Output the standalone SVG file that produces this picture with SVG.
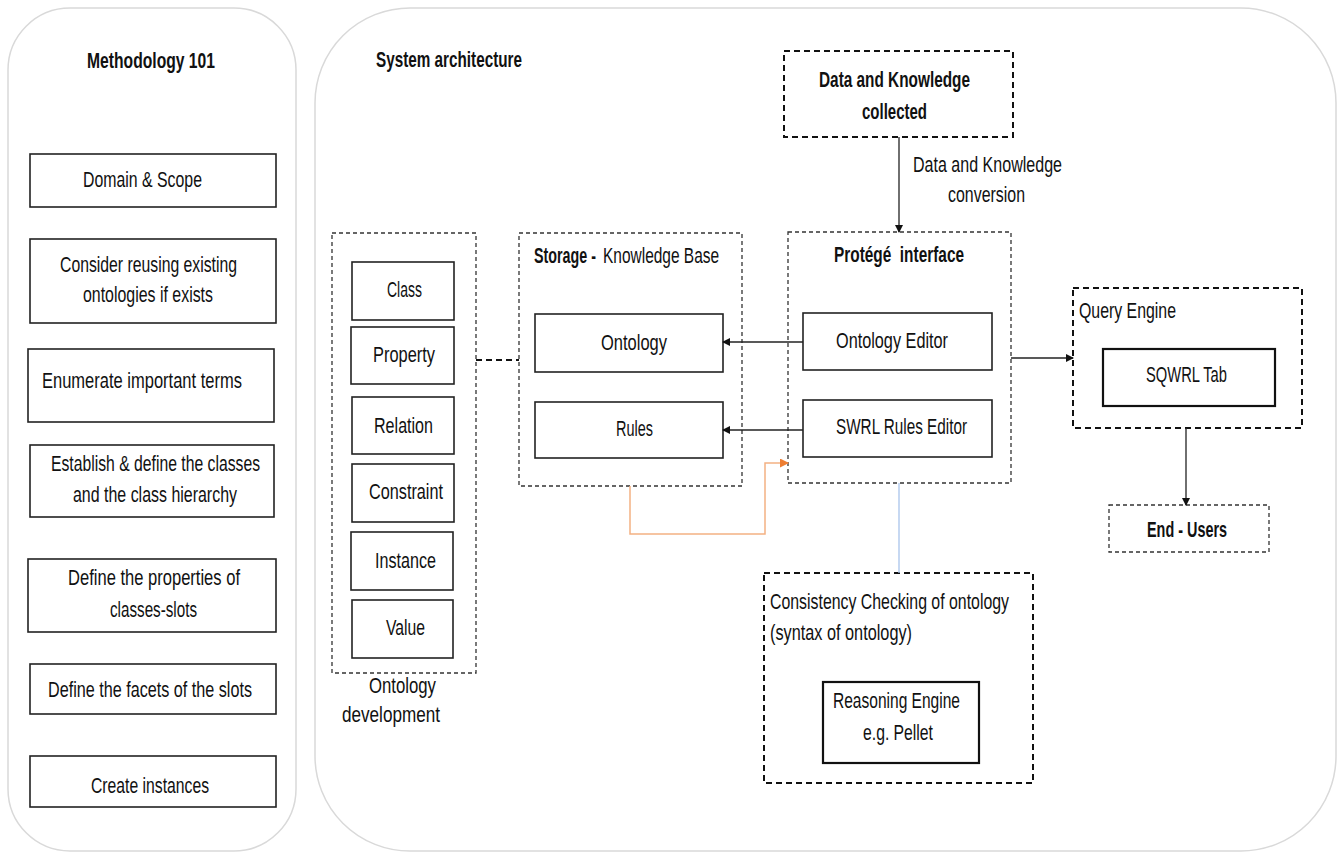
<svg xmlns="http://www.w3.org/2000/svg" width="1341" height="853" viewBox="0 0 1341 853">
<style>
text{font-family:"Liberation Sans",Arial,sans-serif;font-size:21.5px;fill:#111;}
.b{font-weight:bold;}
.panel{fill:#fff;stroke:#d9d9d9;stroke-width:1.5;}
.box{fill:#fff;stroke:#222;stroke-width:1.6;}
.box2{fill:#fff;stroke:#111;stroke-width:2.2;}
.dt{fill:none;stroke:#333;stroke-width:1.3;stroke-dasharray:4 3;}
.dk{fill:none;stroke:#111;stroke-width:2;stroke-dasharray:6 4;}
.ln{fill:none;stroke:#222;stroke-width:1.3;}
</style>
<defs>
<marker id="ah" markerWidth="8" markerHeight="8" refX="7" refY="4" orient="auto" markerUnits="userSpaceOnUse"><path d="M0,0 L8,4 L0,8 z" fill="#111"/></marker>
<marker id="ao" markerWidth="9" markerHeight="9" refX="8" refY="4.5" orient="auto" markerUnits="userSpaceOnUse"><path d="M0,0 L9,4.5 L0,9 z" fill="#ED7D31"/></marker>
</defs>
<rect width="1341" height="853" fill="#fff"/>

<g id="panel-methodology">
<rect class="panel" x="8" y="8" width="288" height="843" rx="62" ry="62"/>
<text class="b" x="87" y="68" textLength="128" lengthAdjust="spacingAndGlyphs">Methodology 101</text>
</g>
<g id="m1"><rect class="box" x="30" y="154" width="246" height="53"/><text x="83" y="187" textLength="119" lengthAdjust="spacingAndGlyphs">Domain &amp; Scope</text></g>
<g id="m2"><rect class="box" x="30" y="239" width="246" height="84"/><text x="60" y="272" textLength="177" lengthAdjust="spacingAndGlyphs">Consider reusing existing</text><text x="83" y="302" textLength="130" lengthAdjust="spacingAndGlyphs">ontologies if exists</text></g>
<g id="m3"><rect class="box" x="28" y="349" width="246" height="73"/><text x="42" y="388" textLength="200" lengthAdjust="spacingAndGlyphs">Enumerate important terms</text></g>
<g id="m4"><rect class="box" x="30" y="445" width="244" height="72"/><text x="51" y="471" textLength="209" lengthAdjust="spacingAndGlyphs">Establish &amp; define the classes</text><text x="73" y="502" textLength="164" lengthAdjust="spacingAndGlyphs">and the class hierarchy</text></g>
<g id="m5"><rect class="box" x="28" y="559" width="248" height="73"/><text x="68" y="585" textLength="172" lengthAdjust="spacingAndGlyphs">Define the properties of</text><text x="110" y="617" textLength="87" lengthAdjust="spacingAndGlyphs">classes-slots</text></g>
<g id="m6"><rect class="box" x="30" y="664" width="246" height="50"/><text x="48" y="697" textLength="204" lengthAdjust="spacingAndGlyphs">Define the facets of the slots</text></g>
<g id="m7"><rect class="box" x="30" y="756" width="246" height="51"/><text x="91" y="793" textLength="118" lengthAdjust="spacingAndGlyphs">Create instances</text></g>

<g id="panel-system">
<rect class="panel" x="315" y="8" width="1021" height="843" rx="95" ry="95"/>
<text class="b" x="376" y="67" textLength="146" lengthAdjust="spacingAndGlyphs">System architecture</text>
</g>

<g id="ontology-development">
<rect class="dt" x="332" y="233" width="144" height="440"/>
<text x="369" y="693" textLength="67" lengthAdjust="spacingAndGlyphs">Ontology</text>
<text x="342" y="722" textLength="98" lengthAdjust="spacingAndGlyphs">development</text>
</g>
<g id="od-class"><rect class="box" x="352" y="262" width="102" height="58"/><text x="387" y="297" textLength="35" lengthAdjust="spacingAndGlyphs">Class</text></g>
<g id="od-property"><rect class="box" x="351" y="327" width="103" height="57"/><text x="373" y="362" textLength="62" lengthAdjust="spacingAndGlyphs">Property</text></g>
<g id="od-relation"><rect class="box" x="352" y="397" width="102" height="57"/><text x="374" y="433" textLength="59" lengthAdjust="spacingAndGlyphs">Relation</text></g>
<g id="od-constraint"><rect class="box" x="352" y="464" width="102" height="58"/><text x="369" y="499" textLength="74" lengthAdjust="spacingAndGlyphs">Constraint</text></g>
<g id="od-instance"><rect class="box" x="351" y="532" width="102" height="58"/><text x="375" y="568" textLength="61" lengthAdjust="spacingAndGlyphs">Instance</text></g>
<g id="od-value"><rect class="box" x="352" y="600" width="101" height="58"/><text x="386" y="635" textLength="39" lengthAdjust="spacingAndGlyphs">Value</text></g>

<g id="storage">
<rect class="dt" x="519" y="233" width="223" height="253"/>
<text class="b" transform="translate(534,263) scale(0.665,1)" x="0" y="0">Storage -</text>
<text transform="translate(603,263) scale(0.72,1)" x="0" y="0">Knowledge Base</text>
</g>
<g id="st-ontology"><rect class="box" x="535" y="314" width="188" height="58"/><text x="601" y="350" textLength="66" lengthAdjust="spacingAndGlyphs">Ontology</text></g>
<g id="st-rules"><rect class="box" x="535" y="402" width="188" height="56"/><text x="616" y="436" textLength="37" lengthAdjust="spacingAndGlyphs">Rules</text></g>

<g id="protege">
<rect class="dt" x="788" y="232" width="223" height="251"/>
<text class="b" x="834" y="262" textLength="130" lengthAdjust="spacingAndGlyphs" xml:space="preserve">Protégé  interface</text>
</g>
<g id="pr-ontology-editor"><rect class="box" x="803" y="313" width="189" height="57"/><text x="836" y="348" textLength="112" lengthAdjust="spacingAndGlyphs">Ontology Editor</text></g>
<g id="pr-swrl-editor"><rect class="box" x="803" y="400" width="189" height="57"/><text x="836" y="434" textLength="131" lengthAdjust="spacingAndGlyphs">SWRL Rules Editor</text></g>

<g id="data-knowledge">
<rect class="dk" x="784" y="51" width="229" height="86"/>
<text class="b" x="819" y="87" textLength="151" lengthAdjust="spacingAndGlyphs">Data and Knowledge</text>
<text class="b" x="862" y="119" textLength="65" lengthAdjust="spacingAndGlyphs">collected</text>
</g>

<g id="query-engine">
<rect class="dk" x="1073" y="288" width="229" height="140"/>
<text x="1079" y="318" textLength="97" lengthAdjust="spacingAndGlyphs">Query Engine</text>
</g>
<g id="qe-sqwrl"><rect class="box2" x="1103" y="349" width="172" height="57"/><text x="1146" y="382" textLength="81" lengthAdjust="spacingAndGlyphs">SQWRL Tab</text></g>

<g id="end-users">
<rect class="dt" x="1109" y="505" width="160" height="47"/>
<text class="b" x="1147" y="537" textLength="80" lengthAdjust="spacingAndGlyphs">End - Users</text>
</g>

<g id="consistency">
<rect class="dk" x="764" y="573" width="269" height="210"/>
<text x="770" y="609" textLength="239" lengthAdjust="spacingAndGlyphs">Consistency Checking of ontology</text>
<text x="770" y="640" textLength="142" lengthAdjust="spacingAndGlyphs">(syntax of ontology)</text>
</g>
<g id="reasoning"><rect class="box2" x="823" y="682" width="156" height="81"/><text x="833" y="708" textLength="127" lengthAdjust="spacingAndGlyphs">Reasoning Engine</text><text x="863" y="740" textLength="70" lengthAdjust="spacingAndGlyphs">e.g. Pellet</text></g>

<g id="connectors">
<line class="dk" x1="476" y1="360" x2="519" y2="360"/>
<line class="ln" x1="899" y1="137" x2="899" y2="232" marker-end="url(#ah)"/>
<text x="913" y="172" textLength="149" lengthAdjust="spacingAndGlyphs">Data and Knowledge</text>
<text x="948" y="202" textLength="77" lengthAdjust="spacingAndGlyphs">conversion</text>
<line class="ln" x1="803" y1="342" x2="723" y2="342" marker-end="url(#ah)"/>
<line class="ln" x1="803" y1="430" x2="723" y2="430" marker-end="url(#ah)"/>
<polyline fill="none" stroke="#F4B183" stroke-width="1.5" points="630,486 630,534 765,534 765,463 788,463" marker-end="url(#ao)"/>
<line class="ln" x1="1011" y1="358" x2="1073" y2="358" marker-end="url(#ah)"/>
<line class="ln" x1="1186" y1="428" x2="1186" y2="505" marker-end="url(#ah)"/>
<line fill="none" stroke="#A9C4EB" stroke-width="1.3" x1="899" y1="483" x2="899" y2="573"/>
</g>
</svg>
